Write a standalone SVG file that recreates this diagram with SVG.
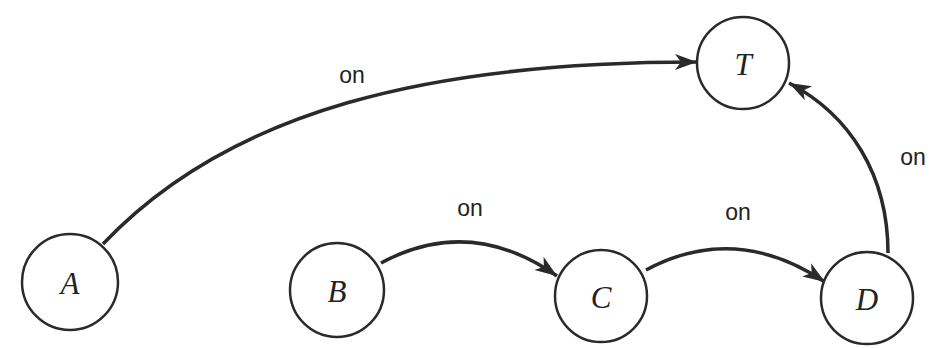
<svg xmlns="http://www.w3.org/2000/svg" width="940" height="348" viewBox="0 0 940 348">
<style>
.node circle{fill:#fff;stroke:#2a2a2a;stroke-width:2.5}
.node text{font-family:"Liberation Serif",serif;font-style:italic;font-size:31px;fill:#222;text-anchor:middle;dominant-baseline:central}
.edge{fill:none;stroke:#2a2a2a;stroke-width:3.5;marker-end:url(#arr)}
.lbl{font-family:"Liberation Sans",Arial,sans-serif;font-size:23px;fill:#222;text-anchor:middle}
</style>
<defs>
<marker id="arr" markerUnits="userSpaceOnUse" markerWidth="30" markerHeight="20" refX="24" refY="10" orient="auto" viewBox="0 0 30 20">
<path d="M24,10 L2,2 L8,10 L2,18 Z" fill="#2a2a2a"/>
</marker>
</defs>
<rect width="940" height="348" fill="#fff"/>
<g id="connectors">
<path class="edge" d="M103,244 C230,110 430,62 697,62"/>
<path class="edge" d="M381,263 Q470,215 557,276"/>
<path class="edge" d="M646,270 Q735,222 825,282"/>
<path class="edge" d="M888,253 C888,175 850,115 789,83"/>
<text class="lbl" x="352" y="83">on</text>
<text class="lbl" x="470" y="216">on</text>
<text class="lbl" x="738" y="220">on</text>
<text class="lbl" x="913" y="165">on</text>
</g>
<g id="node-A" class="node"><circle cx="70" cy="282" r="48"/><text x="70" y="283">A</text></g>
<g id="node-B" class="node"><circle cx="337" cy="290" r="47"/><text x="337" y="291">B</text></g>
<g id="node-C" class="node"><circle cx="601" cy="296" r="46"/><text x="601" y="297">C</text></g>
<g id="node-D" class="node"><circle cx="867" cy="298" r="46"/><text x="867" y="299">D</text></g>
<g id="node-T" class="node"><circle cx="743" cy="63" r="46"/><text x="743" y="64">T</text></g>
</svg>
